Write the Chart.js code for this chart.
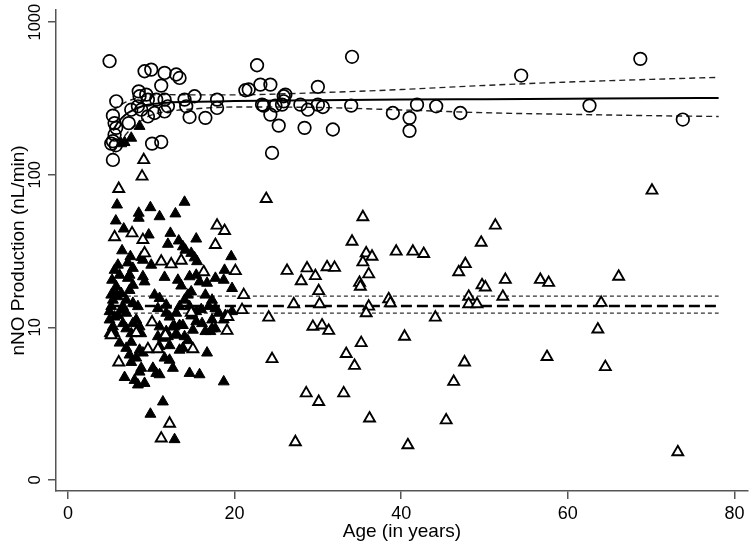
<!DOCTYPE html>
<html>
<head>
<meta charset="utf-8">
<script src="https://cdn.jsdelivr.net/npm/chart.js@4.4.1/dist/chart.umd.min.js"></script>
<style>
html,body{margin:0;padding:0;background:#fff;}
#wrap{width:756px;height:547px;}
canvas{display:block;}
</style>
</head>
<body>
<div id="wrap"><canvas id="c" width="756" height="547"></canvas></div>
<script>
// ---- Data ----
const xTicks = [0, 20, 40, 60, 80];
const yTicks = [1, 10, 100, 1000];
const yTickLabels = ['0', '10', '100', '1000'];

// open circles
const circleAge = [5.0,5.8,5.4,5.6,5.8,5.6,5.4,5.2,5.75,5.4,7.3,7.6,8.5,9.2,10.0,11.6,13.0,13.4,11.2,8.6,9.4,9.6,10.6,11.6,12.0,10.4,11.6,9.6,8.8,8.4,10.1,11.2,14.0,14.2,15.2,14.6,16.5,17.9,17.9,22.7,21.3,21.7,23.1,24.3,23.3,23.5,24.3,24.9,25.3,25.9,26.1,25.9,25.7,24.5,27.9,28.8,30.0,30.0,30.6,28.4,31.8,34.0,34.1,39.0,41.0,41.0,41.9,44.2,47.1,54.4,62.6,68.7,73.8];
const circleNO  = [555,303,244,218,203,183,166,160,156,125,218,267,352,477,489,465,454,431,384,327,335,311,311,311,281,254,260,241,267,281,160,164,311,281,327,239,236,311,274,522,358,362,390,390,288,284,248,284,210,327,335,303,288,139,288,267,377,288,278,203,198,284,593,254,236,194,288,281,254,447,284,575,230];

// open triangles
const openAge = [9.1,8.9,6.1,17.9,18.8,5.6,7.7,9.0,17.7,9.2,11.2,12.4,13.6,16.3,19.2,19.1,10.1,14.8,5.2,8.2,11.7,9.6,10.8,15.0,6.1,12.2,11.2,
 23.8,35.4,34.1,35.8,36.5,35.4,39.4,41.4,42.7,49.6,51.3,47.7,46.9,26.3,28.7,29.7,28.0,31.1,32.0,36.1,35.0,35.1,30.1,21.1,20.1,49.7,50.1,38.5,48.1,48.1,49.1,27.1,30.2,36.1,35.8,20.9,24.1,44.1,29.4,30.5,31.3,40.4,35.2,33.4,34.4,24.5,47.6,46.3,28.6,30.1,33.1,36.2,45.4,27.3,40.8,38.7,
 70.1,52.5,56.7,57.7,66.1,52.2,64.0,63.6,57.5,64.5,73.2];
const openNO = [125,97.5,80.9,46.5,42.9,39.0,41.4,37.4,34.7,30.6,27.0,25.9,27.4,23.0,11.7,9.5,10.8,12.5,8.9,9.2,8.9,7.2,7.2,7.2,5.9,2.34,1.87,
 69.5,52.8,36.5,30.6,29.1,26.7,31.4,31.4,30.3,35.9,46.5,26.0,23.0,23.5,24.4,21.7,20.1,24.8,24.6,22.3,19.6,18.5,17.3,16.3,23.4,18.9,18.3,15.3,15.9,14.2,14.2,14.2,14.2,13.7,12.4,13.0,11.6,11.6,10.1,10.3,9.5,8.7,7.9,6.7,5.6,6.2,5.9,4.4,3.7,3.25,3.7,2.53,2.46,1.77,1.69,14.4,
 78.9,20.5,20.5,19.6,21.5,15.9,14.5,9.7,6.4,5.5,1.52];

// filled triangles
const filledAge = [14.0,5.9,8.5,8.5,9.9,11.0,12.9,5.75,6.7,9.7,12.3,15.4,12.0,13.3,13.8,14.1,6.5,7.5,8.8,9.0,10.0,14.8,15.2,15.5,19.6,18.8,11.6,7.8,7.4,7.2,7.8,7.4,9.0,9.2,13.2,13.6,14.6,15.4,15.8,16.7,17.7,18.7,19.7,5.8,5.6,6.0,5.4,5.2,6.4,7.0,6.6,7.8,8.4,10.4,11.0,11.8,10.8,14.4,14.8,14.0,13.4,14.6,16.5,17.3,16.9,17.7,11.8,13.0,12.2,15.4,16.0,14.8,18.1,19.7,18.9,5.0,5.6,5.0,5.4,5.0,6.0,6.6,7.0,8.2,8.6,7.6,8.8,11.0,12.8,13.8,11.8,13.0,16.1,17.3,16.5,7.0,7.8,5.4,5.6,6.2,7.6,7.0,7.4,8.6,9.0,8.2,7.6,12.6,13.4,10.8,11.4,12.0,13.0,14.0,14.4,11.0,12.2,13.4,13.8,16.7,11.6,12.2,12.6,8.8,8.6,10.2,10.6,11.0,6.8,8.0,8.4,9.2,14.6,15.8,18.7,17.3,17.7,17.1,18.7,15.4,15.0,11.4,9.9,12.8,5.6,5.3,6.2,6.0,5.2,7.2,6.5,6.4,6.8,7.6,8.6];
const filledNO  = [66.2,63.5,56.1,52.0,61.0,53.2,55.5,49.9,44.2,40.4,41.4,38.0,35.1,36.9,33.8,32.1,31.8,29.1,28.8,27.6,25.6,30.6,28.6,27.0,29.1,23.7,21.3,24.4,22.0,21.0,18.9,17.5,21.5,19.9,20.4,18.7,21.5,22.0,19.9,19.5,21.0,20.4,18.0,18.5,17.1,15.9,15.1,13.7,16.7,15.1,13.7,14.4,13.7,16.3,15.5,14.0,13.3,16.3,17.1,15.1,13.7,13.7,16.3,15.1,13.7,13.3,12.4,12.4,11.7,12.7,13.1,11.9,12.4,12.7,12.0,12.7,11.7,11.2,10.1,9.1,12.0,10.6,9.8,11.2,10.1,9.1,9.1,10.1,10.1,10.3,9.4,9.1,10.6,9.8,9.4,12.4,10.6,9.6,9.1,7.9,8.0,7.3,6.6,7.1,6.8,6.3,5.9,10.1,10.3,8.7,8.5,8.7,8.9,8.7,8.2,7.5,7.6,7.1,7.3,6.8,6.3,6.1,5.4,5.4,5.1,5.4,5.0,4.9,4.7,4.5,4.2,4.3,5.0,4.9,4.4,11.2,9.8,9.4,11.2,10.9,9.6,3.25,2.70,1.84,23.7,20.4,22.0,25.6,16.3,26.5,13.0,160,163,174,208];

// fitted curve for circles with its confidence band
const fitAge   = [5.4,6,7,8,9,10,12,15,20,30,40,50,60,70,78.1];
const fitNO    = [195,220,250,268,282,290,297,301,304,308,311,313,315,317,319];
const fitUpper = [265,280,300,315,325,332,335,334,334,345,362,385,405,422,435];
const fitLower = [140,155,185,210,230,246,260,270,278,276,266,255,249,244,241];

// flat fit for triangles with its confidence band
const flatAge   = [5.4, 78.1];
const flatNO    = [13.8, 13.8];
const flatUpper = [16.0, 16.0];
const flatLower = [12.4, 12.4];

// ---- build chart ----
function pts(xs, ys){ return xs.map((x,i)=>({x:x, y:ys[i]})); }
Chart.defaults.font.family = "'Liberation Sans', Arial, Helvetica, sans-serif";
Chart.defaults.color = '#000';

const lineBase = {showLine:true, pointRadius:0, fill:false, cubicInterpolationMode:'monotone'};
const axisCol = '#555';

new Chart(document.getElementById('c'), {
  type: 'scatter',
  data: {
    datasets: [
      Object.assign({label:'fit lower', data: pts(fitAge, fitLower), borderColor:'#222', borderWidth:1.4, borderDash:[6,4], order:10}, lineBase),
      Object.assign({label:'fit upper', data: pts(fitAge, fitUpper), borderColor:'#222', borderWidth:1.4, borderDash:[6,4], order:10}, lineBase),
      Object.assign({label:'fit', data: pts(fitAge, fitNO), borderColor:'#000', borderWidth:2, order:10}, lineBase),
      Object.assign({label:'flat lower', data: pts(flatAge, flatLower), borderColor:'#333', borderWidth:1.3, borderDash:[4,3], order:10}, lineBase),
      Object.assign({label:'flat upper', data: pts(flatAge, flatUpper), borderColor:'#333', borderWidth:1.3, borderDash:[4,3], order:10}, lineBase),
      Object.assign({label:'flat', data: pts(flatAge, flatNO), borderColor:'#000', borderWidth:2.5, borderDash:[11,5], order:10}, lineBase),
      {label:'filled', data: pts(filledAge, filledNO), pointStyle:'triangle', pointRadius:6.3, backgroundColor:'#000', borderColor:'#000', borderWidth:1, order:5},
      {label:'open', data: pts(openAge, openNO), pointStyle:'triangle', pointRadius:6.3, backgroundColor:'#fff', borderColor:'#000', borderWidth:1.9, order:3},
      {label:'circles', data: pts(circleAge, circleNO), pointStyle:'circle', pointRadius:6.3, backgroundColor:'rgba(0,0,0,0)', borderColor:'#000', borderWidth:1.7, order:1}
    ]
  },
  options: {
    responsive:false, animation:false, devicePixelRatio:1, events:[],
    layout:{padding:{left:0, right:2, top:10, bottom:0}},
    plugins:{legend:{display:false}, tooltip:{enabled:false}},
    scales:{
      x:{
        type:'linear', min:-1.43, max:81.6,
        afterBuildTicks: s => { s.ticks = xTicks.map(v=>({value:v})); },
        afterFit: s => { s.height = 56; },
        ticks:{font:{size:18}, padding:4, autoSkip:false, maxRotation:0, color:'#000'},
        grid:{display:true, drawOnChartArea:false, drawTicks:true, tickLength:8, color:axisCol, lineWidth:1.5},
        border:{display:true, color:axisCol, width:1.5},
        title:{display:true, text:'Age (in years)', font:{size:19}, color:'#000', padding:{top:0, bottom:4}}
      },
      y:{
        type:'logarithmic', min:0.8456, max:1202,
        afterBuildTicks: s => { s.ticks = yTicks.map(v=>({value:v})); },
        afterFit: s => { s.width = 56; },
        ticks:{font:{size:16.5}, autoSkip:false, minRotation:90, maxRotation:90, crossAlign:'center', padding:-6, color:'#000',
          callback: v => { const i = yTicks.indexOf(v); return i >= 0 ? yTickLabels[i] : ''; }},
        grid:{display:true, drawOnChartArea:false, drawTicks:true, tickLength:8, color:axisCol, lineWidth:1.5},
        border:{display:true, color:axisCol, width:1.5},
        title:{display:true, text:'nNO Production (nL/min)', font:{size:19}, color:'#000', padding:{top:7, bottom:0}}
      }
    }
  }
});
</script>
</body>
</html>
